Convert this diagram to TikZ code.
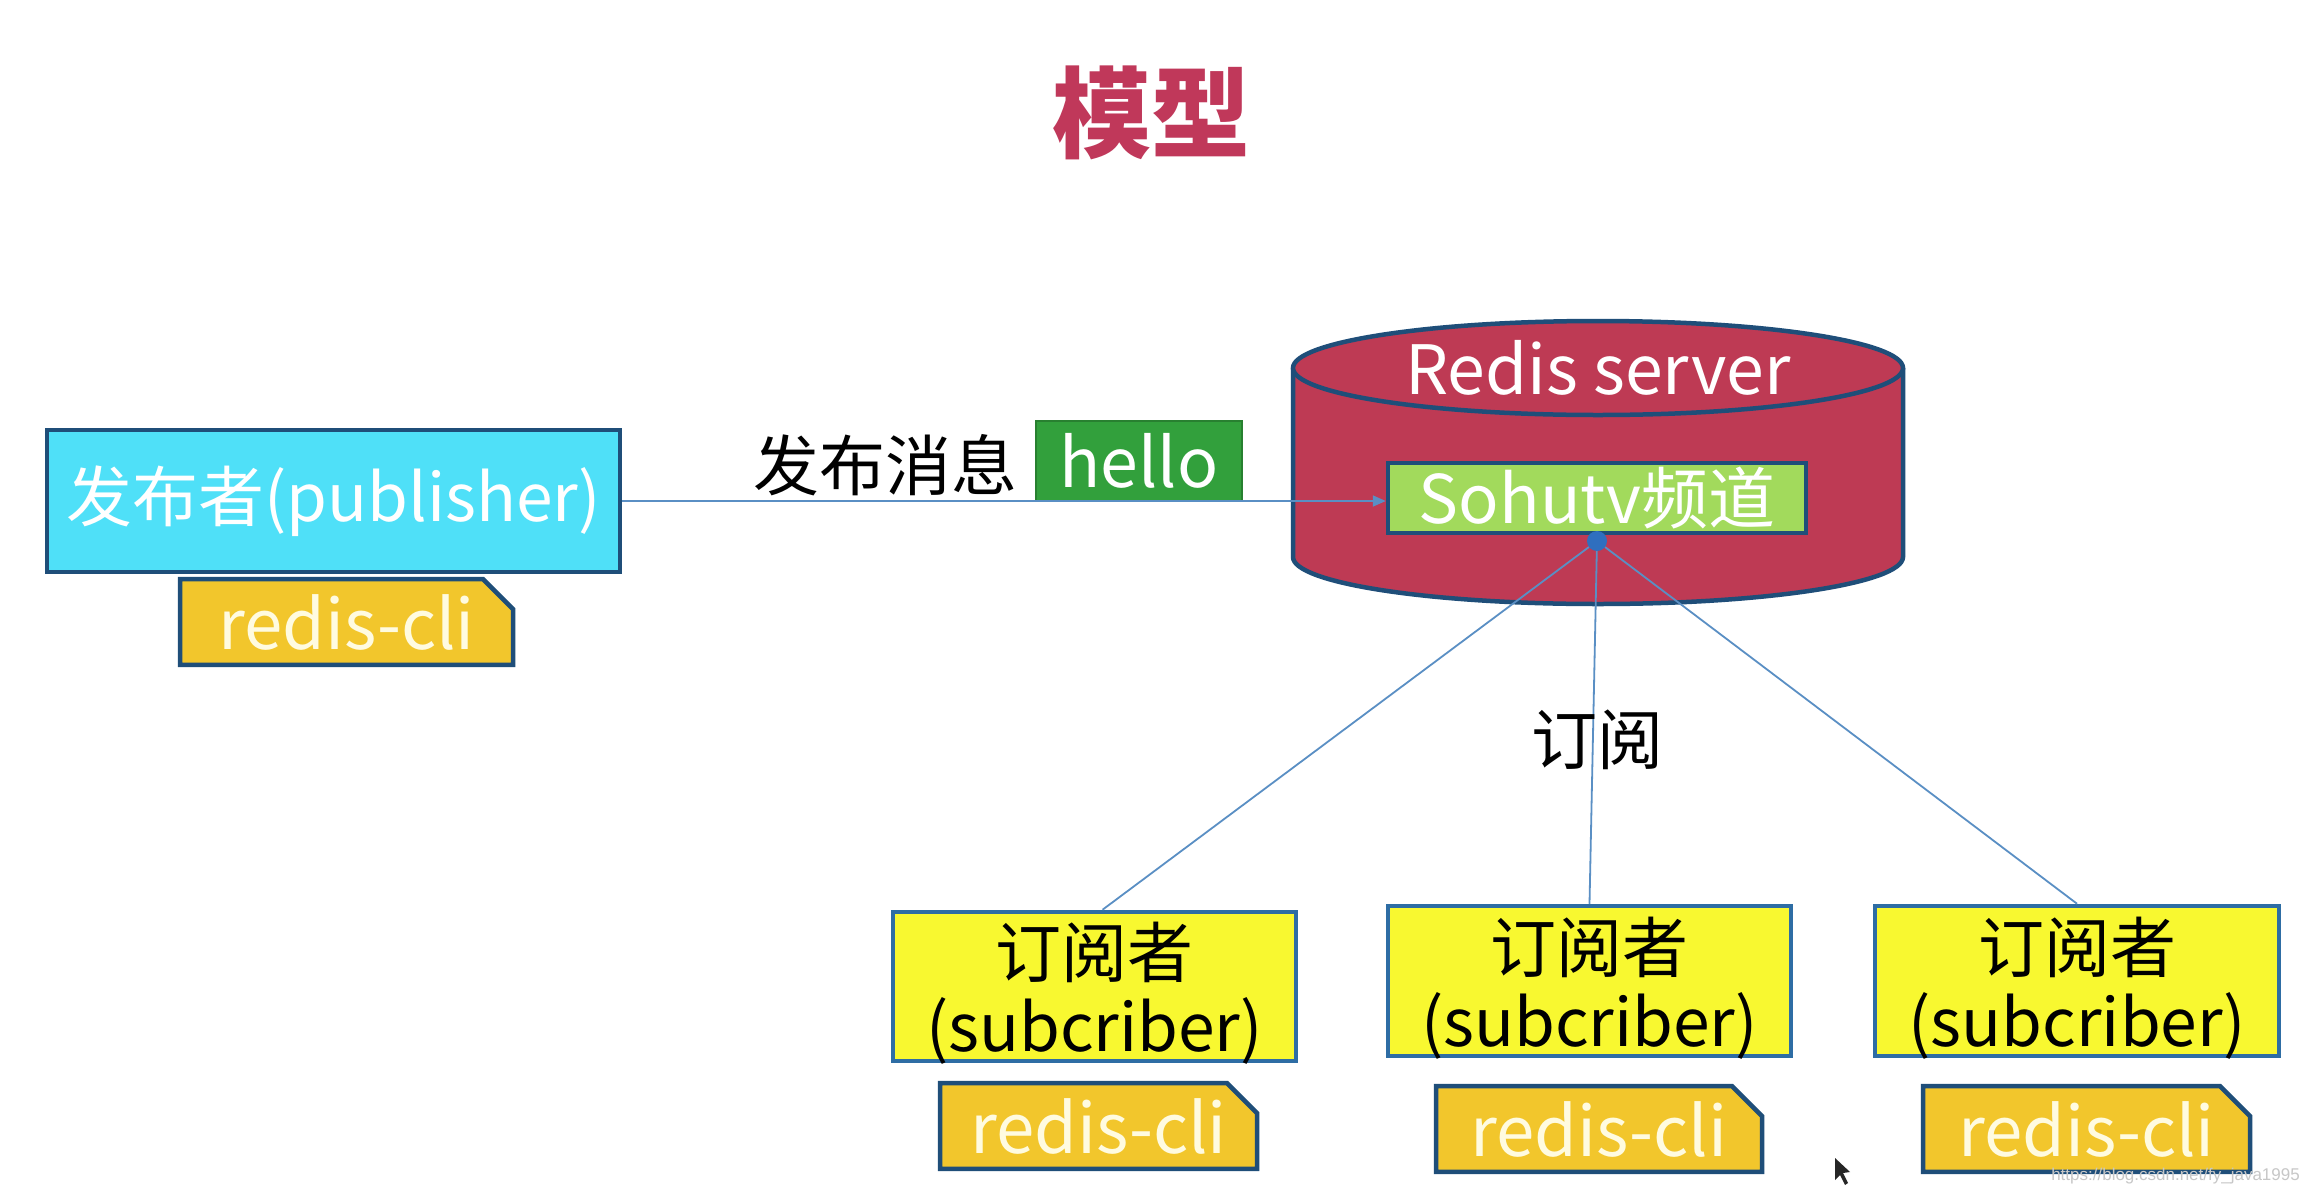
\documentclass[tikz,border=0pt]{standalone}
\usepackage{fontspec}
\newfontfamily\cjk{Noto Sans CJK SC}
\newfontfamily\wmfont{Liberation Sans}
\usetikzlibrary{shapes.misc,arrows.meta}
\definecolor{titlered}{HTML}{C0385A}
\definecolor{cylred}{HTML}{BE3A54}
\definecolor{darkblue}{HTML}{1F4E79}
\definecolor{midblue}{HTML}{2E6DA4}
\definecolor{pubcyan}{HTML}{4FE0F8}
\definecolor{hellogreen}{HTML}{32A03C}
\definecolor{sohugreen}{HTML}{A2DA5C}
\definecolor{subyellow}{HTML}{F8F830}
\definecolor{cligold}{HTML}{F2C62C}
\definecolor{connblue}{HTML}{5A8FC4}
\definecolor{dotblue}{HTML}{2F6FBF}
\definecolor{creamtext}{HTML}{FFFBE0}
\tikzset{
  fs/.style={font=\cjk\fontsize{#1}{#1}\selectfont},
  pubbox/.style={draw=darkblue, line width=4.5pt, fill=pubcyan, text=white, inner sep=0pt, fs=66},
  clibox/.style={chamfered rectangle, chamfered rectangle corners=north east,
    chamfered rectangle xsep=15pt, chamfered rectangle ysep=15pt,
    draw=darkblue, line width=4.5pt, fill=cligold, text=creamtext, inner sep=0pt, fs=69},
  subbox/.style={draw=midblue, line width=4.5pt, fill=subyellow, inner sep=0pt},
  subtext/.style={text=black, inner sep=0pt, align=center, font=\cjk\fontsize{66}{74}\selectfont},
  hellobox/.style={fill=hellogreen, draw=hellogreen!80!black, line width=1.5pt, text=white, inner sep=0pt, fs=68},
  sohubox/.style={draw=darkblue, line width=4.5pt, fill=sohugreen, text=white, inner sep=0pt, fs=67},
  plainlabel/.style={text=black, inner sep=0pt, fs=66},
  conn/.style={draw=connblue, line width=1.8pt},
}
\begin{document}
\begin{tikzpicture}[x=1pt,y=-1pt]
\useasboundingbox[fill=white] (0,0) rectangle (2310,1194);

% title
\node[text=titlered, inner sep=0pt, font=\cjk\bfseries\fontsize{99}{99}\selectfont] (title) at (1151,113) {模型};

% cylinder (Redis server)
\fill[cylred] (1293,368) rectangle (1903,557);
\fill[cylred] (1598,557) ellipse [x radius=305pt, y radius=47pt];
\draw[darkblue, line width=4.5pt] (1293,368) -- (1293,557)
   arc[start angle=180, end angle=360, x radius=305pt, y radius=47pt] -- (1903,368);
\draw[darkblue, line width=4.5pt, fill=cylred] (1598,368) ellipse [x radius=305pt, y radius=47pt];
\node[text=white, inner sep=0pt, fs=68] (server) at (1598,368) {Redis server};

% channel
\node[sohubox, minimum width=418pt, minimum height=70pt] (sohu) at (1597,498) {Sohutv频道};

% publisher
\node[pubbox, minimum width=573pt, minimum height=142pt] (pub) at (333.5,501) {发布者(publisher)};
\node[clibox, minimum width=333pt, minimum height=84pt] (pubcli) at (346.5,622) {redis-cli};

% message
\node[plainlabel] (msg) at (885,465) {发布消息};
\node[hellobox, minimum width=206pt, minimum height=80pt] (hello) at (1139,461) {hello};

% publish connector
\draw[conn, -{Triangle[length=13pt,width=11pt]}] (pub.east) -- (pub.east -| sohu.west);

% subscribers
\node[subbox, minimum width=403pt, minimum height=149pt] (sub1) at (1094.5,986.5) {};
\node[subbox, minimum width=403pt, minimum height=150pt] (sub2) at (1589.5,981) {};
\node[subbox, minimum width=404pt, minimum height=150pt] (sub3) at (2077,981) {};
\foreach \s in {sub1,sub2,sub3}
  \node[subtext] (\s text) at ([yshift=-7pt]\s.center) {订阅者\\(subcriber)};
\node[clibox, minimum width=317pt, minimum height=84pt] (cli1) at (1098.5,1126) {redis-cli};
\node[clibox, minimum width=326pt, minimum height=84pt] (cli2) at (1599,1129) {redis-cli};
\node[clibox, minimum width=327pt, minimum height=84pt] (cli3) at (2086.5,1129) {redis-cli};

% subscribe connectors
\node[circle, fill=dotblue, inner sep=0pt, minimum size=20pt] (dot) at (1597,541) {};
\draw[conn] (dot) -- ([xshift=8pt]sub1.north);
\draw[conn] (dot) -- (sub2.north);
\draw[conn] (dot) -- (sub3.north);
\node[plainlabel] (sublabel) at (1597,740) {订阅};

% cursor
\fill[black!85] (1835,1158) -- (1835,1180) -- (1840,1175) -- (1845,1185) -- (1848,1183) -- (1843,1173) -- (1850,1172) -- cycle;

% watermark
\node[text=black!22, inner sep=0pt, font=\wmfont\fontsize{17}{17}\selectfont, anchor=east] (wm) at (2300,1176) {https://blog.csdn.net/fy\_java1995};
\end{tikzpicture}
\end{document}
